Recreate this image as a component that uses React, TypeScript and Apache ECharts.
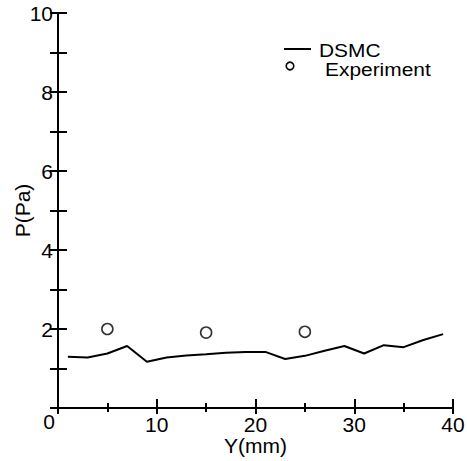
import React, { useEffect, useRef } from "react";
import * as echarts from "echarts";

const dsmcY = [1, 3, 5, 7, 9, 11, 13, 15, 17, 19, 21, 23, 25, 27, 29, 31, 33, 35, 37, 39];
const dsmcP = [1.3, 1.28, 1.38, 1.57, 1.17, 1.28, 1.33, 1.36, 1.4, 1.42, 1.42, 1.24, 1.32, 1.45, 1.57, 1.38, 1.59, 1.54, 1.72, 1.87];
const expY = [5, 15, 25];
const expP = [2.0, 1.91, 1.93];
const seriesNames = ["DSMC", "Experiment"];

const FONT = "'Liberation Sans', Arial, Helvetica, sans-serif";

export default function App() {
  const ref = useRef<HTMLDivElement>(null);
  useEffect(() => {
    if (!ref.current) return;
    const chart = echarts.init(ref.current, undefined, { renderer: "svg" });
    const axisLine = { show: true, lineStyle: { color: "#000", width: 2 } };
    chart.setOption({
      animation: false,
      backgroundColor: "#fff",
      textStyle: { fontFamily: FONT },
      grid: { left: 58, right: 14, top: 13, bottom: 53, outerBoundsMode: "none", containLabel: false },
      xAxis: [
        {
          type: "value",
          min: 0,
          max: 40,
          interval: 10,
          name: "Y(mm)",
          nameLocation: "middle",
          nameGap: 27,
          nameMoveOverlap: false,
          nameTextStyle: { fontSize: 21, color: "#000", fontFamily: FONT, verticalAlign: "top" },
          axisLine,
          axisTick: { show: true, inside: true, length: 9, lineStyle: { color: "#000", width: 2 } },
          minorTick: { show: true, splitNumber: 2, length: 5, lineStyle: { color: "#000", width: 2 } },
          splitLine: { show: false },
          axisLabel: {
            fontSize: 21,
            color: "#000",
            margin: 6,
            fontFamily: FONT,
            formatter: (v: number) => (v === 0 ? "" : String(v)),
          },
        },
        {
          type: "value",
          position: "top",
          min: 0,
          max: 40,
          interval: 10,
          axisLine,
          axisTick: { show: true, inside: true, length: 6, lineStyle: { color: "#000", width: 2 } },
          minorTick: { show: true, splitNumber: 2, length: 4, lineStyle: { color: "#000", width: 2 } },
          splitLine: { show: false },
          axisLabel: { show: false },
        },
      ],
      yAxis: [
        {
          type: "value",
          min: 0,
          max: 10,
          interval: 2,
          name: "P(Pa)",
          nameLocation: "middle",
          nameGap: 25,
          nameRotate: 90,
          nameMoveOverlap: false,
          nameTextStyle: { fontSize: 21, color: "#000", fontFamily: FONT },
          axisLine,
          axisTick: { show: true, inside: true, length: 9, lineStyle: { color: "#000", width: 2 } },
          minorTick: { show: true, splitNumber: 2, length: 9, lineStyle: { color: "#000", width: 2 } },
          splitLine: { show: false },
          axisLabel: {
            fontSize: 21,
            color: "#000",
            margin: 5,
            fontFamily: FONT,
            formatter: (v: number) => (v === 0 ? "" : String(v)),
          },
        },
        {
          type: "value",
          position: "right",
          min: 0,
          max: 10,
          interval: 1,
          axisLine,
          axisTick: { show: true, inside: true, length: 8, lineStyle: { color: "#000", width: 2 } },
          splitLine: { show: false },
          axisLabel: { show: false },
        },
      ],
      series: [
        {
          name: seriesNames[0],
          type: "line",
          xAxisIndex: 0,
          yAxisIndex: 0,
          data: dsmcY.map((y, i) => [y, dsmcP[i]]),
          showSymbol: false,
          symbol: "none",
          lineStyle: { color: "#000", width: 2 },
        },
        {
          name: seriesNames[1],
          type: "scatter",
          xAxisIndex: 0,
          yAxisIndex: 0,
          data: expY.map((y, i) => [y, expP[i]]),
          symbol: "circle",
          symbolSize: 11,
          itemStyle: { color: "#fff", borderColor: "#000", borderWidth: 1.6 },
        },
      ],
      graphic: [
        {
          type: "line",
          shape: { x1: 284, y1: 49, x2: 311, y2: 49 },
          style: { stroke: "#000", lineWidth: 2 },
        },
        {
          type: "text",
          x: 319,
          y: 50,
          scaleX: 1.1,
          style: { text: seriesNames[0], fontSize: 19, fill: "#000", fontFamily: FONT, verticalAlign: "middle" },
        },
        {
          type: "circle",
          shape: { cx: 290, cy: 66, r: 3.8 },
          style: { fill: "#fff", stroke: "#000", lineWidth: 1.6 },
        },
        {
          type: "text",
          x: 325,
          y: 69,
          scaleX: 1.1,
          style: { text: seriesNames[1], fontSize: 19, fill: "#000", fontFamily: FONT, verticalAlign: "middle" },
        },
        {
          type: "text",
          x: 49,
          y: 421,
          style: { text: "0", fontSize: 21, fill: "#000", fontFamily: FONT, align: "center", verticalAlign: "middle" },
        },
      ],
    });
    return () => chart.dispose();
  }, []);
  return <div ref={ref} style={{ position: "fixed", left: 0, top: 0, width: 467, height: 461 }} />;
}
